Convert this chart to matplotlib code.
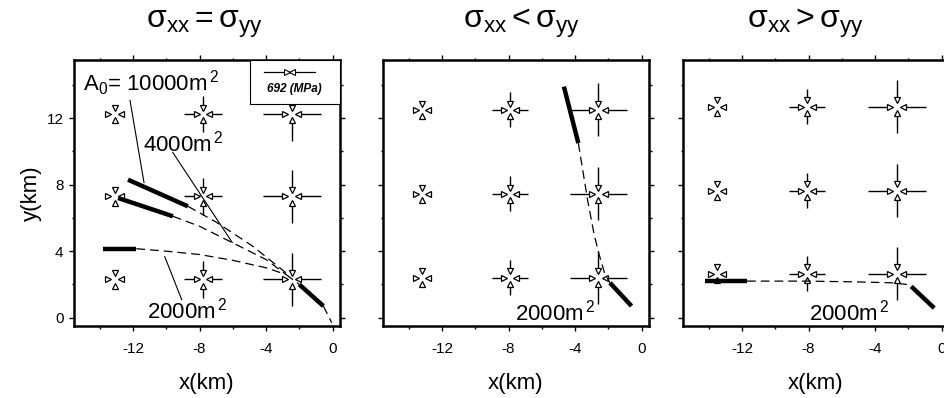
import matplotlib
matplotlib.use("Agg")
import matplotlib.pyplot as plt
from matplotlib.patches import Rectangle

plt.rcParams["font.family"] = ["Liberation Sans", "DejaVu Sans"]
plt.rcParams["mathtext.fontset"] = "custom"
plt.rcParams["mathtext.rm"] = "Liberation Sans"
plt.rcParams["mathtext.it"] = "Liberation Sans:italic"
plt.rcParams["mathtext.bf"] = "Liberation Sans:bold"
plt.rcParams["mathtext.default"] = "regular"
plt.rcParams["axes.unicode_minus"] = False

# ---- data (km) ----
titles = [r"$\sigma_{xx} = \sigma_{yy}$", r"$\sigma_{xx} < \sigma_{yy}$", r"$\sigma_{xx} > \sigma_{yy}$"]
title_x = [0.49, 0.52, 0.46]
xticks = [-12, -8, -4, 0]
yticks = [0, 4, 8, 12]

# stress symbol grid, one row per panel
grid_x = [[-13.1, -7.8, -2.45], [-13.2, -7.9, -2.6], [-13.5, -8.1, -2.7]]
grid_y = [[2.3, 7.3, 12.25], [2.4, 7.45, 12.5], [2.65, 7.65, 12.7]]
# half-length of the compression bars for each column
arm_x = [[0.0, 1.15, 1.75], [0.0, 1.1, 1.7], [0.0, 1.1, 1.75]]
arm_y = [[0.0, 1.1, 1.6], [0.0, 1.05, 1.6], [0.0, 1.05, 1.6]]

# panel 1 (sxx = syy) fault traces
eq_10000_solid_x = [-12.3, -8.7]
eq_10000_solid_y = [8.3, 6.7]
eq_10000_dash_x = [-8.7, -7.0, -4.8, -2.8]
eq_10000_dash_y = [6.7, 5.75, 4.3, 2.7]
eq_4000_solid_x = [-12.9, -9.6]
eq_4000_solid_y = [7.2, 6.1]
eq_4000_dash_x = [-9.6, -8.0, -6.0, -4.0, -2.8]
eq_4000_dash_y = [6.1, 5.5, 4.5, 3.5, 2.6]
eq_2000_solid_x = [-13.8, -11.8]
eq_2000_solid_y = [4.15, 4.15]
eq_2000_dash_x = [-11.8, -10.0, -8.0, -6.0, -4.0, -2.8]
eq_2000_dash_y = [4.15, 4.0, 3.8, 3.45, 3.0, 2.6]
eq_tail_dash_x = [-2.8, -2.0]
eq_tail_dash_y = [2.6, 2.0]
eq_tail_solid_x = [-2.0, -0.55]
eq_tail_solid_y = [2.0, 0.7]
eq_end_dash_x = [-0.55, -0.05]
eq_end_dash_y = [0.7, -0.3]

# panel 2 (sxx < syy)
lt_solid_x = [-4.67, -3.8]
lt_solid_y = [13.9, 10.5]
lt_dash_x = [-3.8, -3.23, -2.85, -2.55, -2.2, -1.9]
lt_dash_y = [10.5, 7.0, 5.0, 3.8, 2.6, 2.1]
lt_tail_x = [-1.9, -0.6]
lt_tail_y = [2.1, 0.7]

# panel 3 (sxx > syy)
gt_solid_x = [-14.2, -11.7]
gt_solid_y = [2.2, 2.2]
gt_dash_x = [-11.7, -8.0, -5.0, -3.0, -2.1, -1.82]
gt_dash_y = [2.2, 2.2, 2.15, 2.1, 2.0, 1.88]
gt_tail_x = [-1.82, -0.44]
gt_tail_y = [1.88, 0.58]

# area labels: (text, x, y) and leader lines
area_labels = [
    [(r"A$_0$= 10000m$^{\,2}$", -15.0, 14.1), (r"4000m$^{\,2}$", -11.4, 10.5), (r"2000m$^{\,2}$", -11.15, 0.42)],
    [(r"2000m$^{\,2}$", -7.6, 0.32)],
    [(r"2000m$^{\,2}$", -8.0, 0.32)],
]
leader_x = [[-12.18, -11.34], [-9.61, -6.03], [-9.07, -10.09]]
leader_y = [[13.07, 8.13], [9.94, 4.52], [1.08, 3.67]]

scale_value = 692  # MPa
scale_x, scale_y, scale_half = -2.6, 14.8, 1.55

XLIM = (-15.55, 0.45)
YLIM = (-0.5, 15.5)

TRI_OFF = 0.38   # marker centre offset from node
BASE = 0.55      # where bars start
TRI_MS = 4.4


def draw_stress(ax, cx, cy, lx, ly):
    kw = dict(color="k", lw=1.0, solid_capstyle="butt")
    if lx > BASE:
        ax.plot([cx - lx, cx - BASE], [cy, cy], **kw)
        ax.plot([cx + BASE, cx + lx], [cy, cy], **kw)
    if ly > BASE:
        ax.plot([cx, cx], [cy - ly, cy - BASE], **kw)
        ax.plot([cx, cx], [cy + BASE, cy + ly], **kw)
    mk = dict(ms=TRI_MS, mfc="white", mec="k", mew=0.9, ls="none")
    ax.plot(cx - TRI_OFF, cy, marker=">", **mk)
    ax.plot(cx + TRI_OFF, cy, marker="<", **mk)
    ax.plot(cx, cy + TRI_OFF, marker="v", **mk)
    ax.plot(cx, cy - TRI_OFF, marker="^", **mk)


def solid(ax, x, y):
    ax.plot(x, y, color="k", lw=3.2, solid_capstyle="butt")


def dashed(ax, x, y):
    ax.plot(x, y, color="k", lw=0.9, dashes=(7, 4))


fig = plt.figure(figsize=(9.44, 3.98), dpi=100)
lefts = [74, 383, 683]
axes = []
for i, left in enumerate(lefts):
    ax = fig.add_axes([left / 944, 72 / 398, 266 / 944, 266 / 398])
    ax.set_xlim(*XLIM)
    ax.set_ylim(*YLIM)
    ax.set_xticks(xticks)
    ax.set_yticks(yticks)
    ax.set_xticks([-14, -10, -6, -2], minor=True)
    ax.set_yticks([2, 6, 10, 14], minor=True)
    ax.tick_params(which="both", direction="out", top=True, right=True, width=1)
    ax.tick_params(which="major", length=3.5)
    ax.tick_params(which="minor", length=1.8)
    ax.tick_params(axis="x", labelsize=11, pad=8)
    ax.tick_params(axis="y", labelsize=11, pad=4)
    for sp in ax.spines.values():
        sp.set_linewidth(1.8)
    if i > 0:
        ax.tick_params(labelleft=False)
    ax.set_xlabel("x(km)", fontsize=16, labelpad=12)
    ax.text(title_x[i], 1.12, titles[i], transform=ax.transAxes, ha="center", va="baseline", fontsize=23)
    for j, cx in enumerate(grid_x[i]):
        for cy in grid_y[i]:
            draw_stress(ax, cx, cy, arm_x[i][j], arm_y[i][j])
    for txt, tx, ty in area_labels[i]:
        ax.text(tx, ty, txt, ha="left", va="center", fontsize=16)
    axes.append(ax)

ax1, ax2, ax3 = axes
ax1.set_ylabel("y(km)", fontsize=16, labelpad=3)

# panel 1 traces
solid(ax1, eq_10000_solid_x, eq_10000_solid_y)
dashed(ax1, eq_10000_dash_x, eq_10000_dash_y)
solid(ax1, eq_4000_solid_x, eq_4000_solid_y)
dashed(ax1, eq_4000_dash_x, eq_4000_dash_y)
solid(ax1, eq_2000_solid_x, eq_2000_solid_y)
dashed(ax1, eq_2000_dash_x, eq_2000_dash_y)
dashed(ax1, eq_tail_dash_x, eq_tail_dash_y)
solid(ax1, eq_tail_solid_x, eq_tail_solid_y)
dashed(ax1, eq_end_dash_x, eq_end_dash_y)
for lx, ly in zip(leader_x, leader_y):
    ax1.plot(lx, ly, color="k", lw=0.8)

# scale key
ax1.add_patch(Rectangle((0.663, 0.835), 0.337, 0.165, transform=ax1.transAxes,
                        fill=True, facecolor="white", edgecolor="k", lw=0.8, zorder=3))
ax1.plot([scale_x - scale_half, scale_x + scale_half], [scale_y, scale_y], color="k", lw=0.9, zorder=4)
ax1.plot(scale_x - 0.15, scale_y, marker=">", ms=TRI_MS, mfc="white", mec="k", mew=0.8, zorder=5)
ax1.plot(scale_x + 0.15, scale_y, marker="<", ms=TRI_MS, mfc="white", mec="k", mew=0.8, zorder=5)
ax1.text(0.828, 0.89, f"{scale_value} (MPa)", transform=ax1.transAxes, ha="center", va="center",
         fontsize=8.5, fontweight="bold", fontstyle="italic", zorder=5)

# panel 2 traces
solid(ax2, lt_solid_x, lt_solid_y)
dashed(ax2, lt_dash_x, lt_dash_y)
solid(ax2, lt_tail_x, lt_tail_y)

# panel 3 traces
solid(ax3, gt_solid_x, gt_solid_y)
dashed(ax3, gt_dash_x, gt_dash_y)
solid(ax3, gt_tail_x, gt_tail_y)

fig.savefig("out.png", dpi=100)
